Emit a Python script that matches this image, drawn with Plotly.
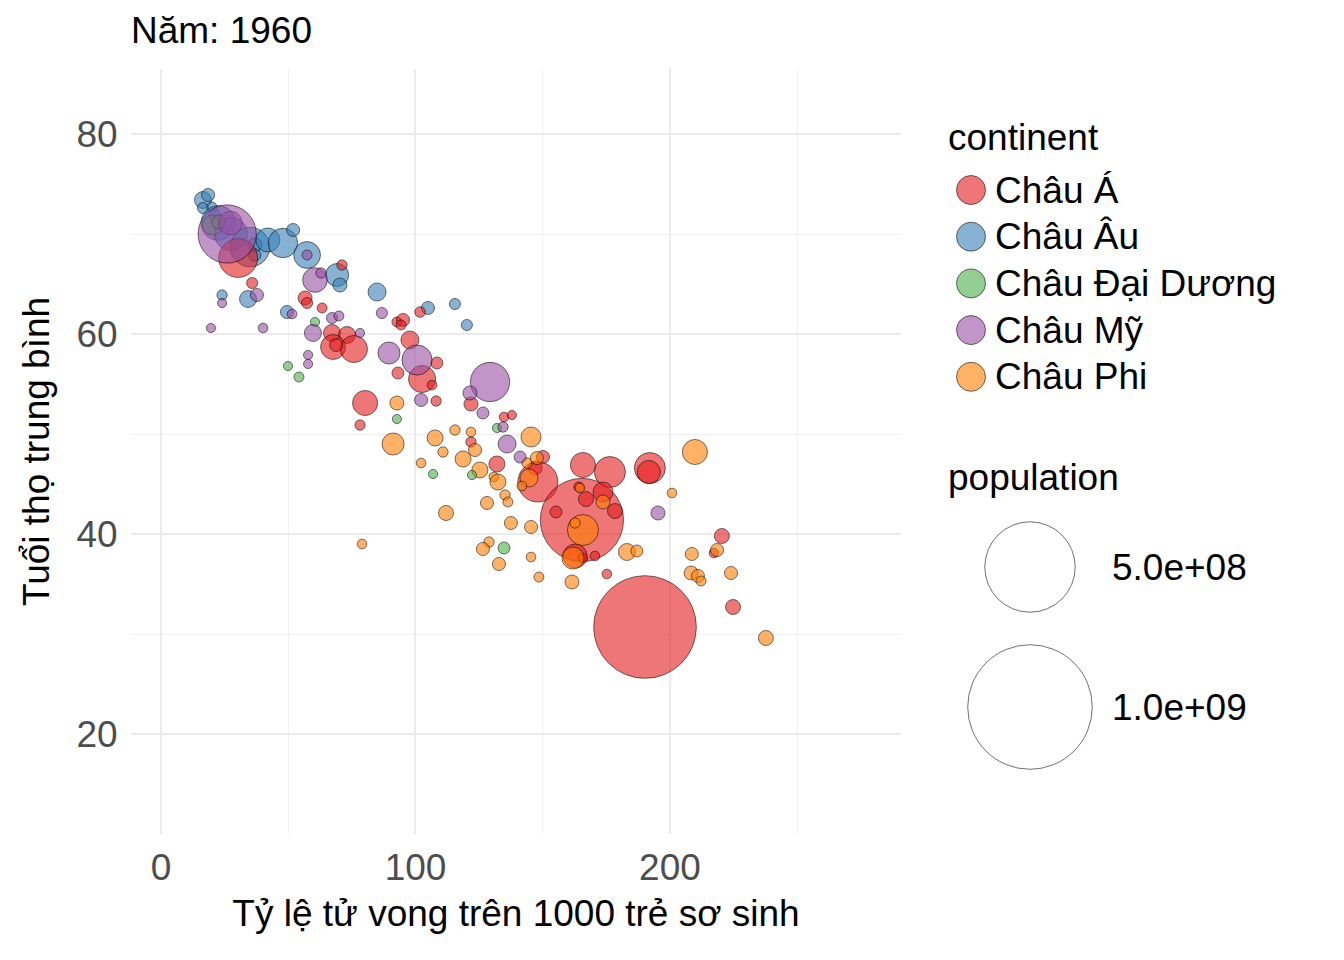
"""Bubble chart: infant mortality vs life expectancy, 1960 (gapminder style)."""

import math

import plotly.graph_objects as go

# ---- data (1960) ----
# infant mortality per 1000 births, life expectancy (years), population (millions)
asia_mort = [30.3, 35.8, 56.6, 57.4, 63.3, 71.1, 92.7, 95.1, 94.3, 101.8, 67.2, 73.1,
             67.6, 75.8, 68.8, 97.8, 93.1, 108.4, 102.6, 106.5, 108.1, 80.2, 78.2, 121.8,
             134.8, 137.9, 121.8, 132.0, 150.1, 147.0, 148.1, 165.8, 176.4, 192.1, 191.7,
             165.4, 164.2, 173.7, 167.0, 178.4, 155.2, 162.7, 165.8, 170.5, 175.2, 220.4,
             217.3, 224.8, 190.2]
asia_life = [67.6, 65.1, 63.6, 63.1, 62.6, 66.9, 61.2, 61.4, 60.9, 62.2, 60.1, 59.9,
             58.7, 58.5, 58.9, 59.4, 56.1, 57.1, 55.5, 54.9, 53.3, 53.1, 50.9, 53.0,
             51.7, 51.9, 49.2, 47.0, 47.7, 46.6, 45.2, 46.9, 46.2, 46.6, 46.2,
             41.4, 44.7, 44.2, 43.5, 42.3, 42.2, 37.8, 37.6, 37.8, 36.0, 39.8,
             38.1, 32.7, 30.7]
asia_pop = [70, 0.7, 2.7, 0.7, 0.3, 0.4, 0.3, 1.9, 0.3, 0.5, 6, 6,
            21, 27, 1.9, 7.4, 1.2, 1.2, 27, 0.2, 0.4, 21.5, 0.4, 2.7,
            0.2, 0.1, 0.4, 4.8, 1.9, 2.7, 76, 21.5, 39, 39, 17,
            418, 0.3, 10.7, 3.6, 3.6, 1.2, 19, 0.2, 0.2, 0.2, 3.6,
            0.2, 3.6, 660]

europe_mort = [16.5, 18.5, 16.5, 20.0, 21.2, 22.5, 27.5, 35.0, 36.9, 36.9, 42.0, 47.9,
               51.9, 57.4, 69.2, 70.3, 84.9, 24.0, 34.2, 49.5, 104.9, 115.5, 120.2]
europe_life = [73.4, 73.9, 72.6, 72.7, 71.9, 71.1, 70.0, 68.7, 68.9, 67.9, 69.4, 69.1,
               70.4, 67.9, 65.9, 64.9, 64.2, 63.9, 63.5, 62.2, 62.6, 63.0, 60.9]
europe_pop = [6, 1.9, 0.7, 0.3, 1.2, 52, 46, 73, 2.7, 1.2, 19, 34,
              1.9, 26, 16.7, 2.7, 7.4, 0.4, 6, 1.9, 1.9, 0.7, 0.7]

oceania_mort = [20.2, 22.6, 60.5, 49.9, 54.2, 92.7, 132.0, 106.9, 122.2, 134.8]
oceania_life = [70.9, 71.2, 61.2, 56.8, 55.7, 51.5, 50.6, 46.0, 45.9, 38.6]
oceania_pop = [10.3, 2.4, 0.1, 0.1, 0.3, 0.1, 0.1, 0.1, 0.1, 1.2]

americas_mort = [27.3, 26.0, 37.7, 24.0, 51.5, 60.5, 62.9, 57.4, 86.8, 67.2, 69.9, 19.6,
                 40.1, 59.7, 78.2, 57.8, 57.8, 89.6, 100.6, 102.2, 129.3, 121.4, 126.5,
                 134.4, 136.0, 141.1, 195.3]
americas_life = [71.1, 70.0, 63.9, 63.1, 62.0, 65.4, 66.1, 67.9, 62.1, 61.6, 61.8, 60.6,
                 60.6, 60.1, 60.1, 57.9, 57.0, 58.1, 57.4, 53.4, 55.2, 54.1, 52.1,
                 50.7, 49.0, 47.7, 42.1]
americas_pop = [17.9, 186, 1.9, 0.1, 0.2, 20.6, 0.4, 0.3, 0.7, 0.7, 0.3, 0.1,
                0.2, 6, 0.1, 0.1, 0.1, 14.6, 36, 1.9, 72, 2.7, 1.2,
                0.4, 7.4, 1.2, 2.7]

africa_mort = [92.7, 91.2, 115.5, 121.8, 107.7, 123.4, 110.8, 102.2, 118.7, 125.3, 130.8,
               132.4, 145.4, 143.8, 147.7, 144.6, 141.8, 135.2, 136.3, 128.1, 112.0, 137.5,
               145.4, 79.0, 128.9, 126.5, 132.8, 145.4, 148.5, 161.5, 165.8, 162.7, 161.9,
               173.7, 164.6, 183.1, 187.0, 209.8, 200.8, 208.6, 218.5, 208.3, 211.0, 212.2,
               224.0, 237.7]
africa_life = [53.1, 49.0, 50.4, 50.2, 49.6, 48.4, 48.2, 47.1, 47.5, 46.4, 45.7,
               45.2, 49.7, 47.1, 47.6, 45.6, 44.8, 43.9, 43.2, 43.1, 42.1, 41.1,
               40.7, 39.0, 39.2, 38.5, 37.0, 37.7, 35.7, 35.2, 40.4, 41.1, 37.6,
               43.2, 44.6, 38.2, 38.3, 48.2, 44.1, 38.0, 38.4, 36.1, 35.8, 35.3,
               36.1, 29.6]
africa_pop = [2.7, 14.6, 0.4, 0.2, 4.8, 1.9, 0.4, 0.2, 4.8, 4.8, 0.2,
              4.8, 10.7, 0.4, 1.9, 7.4, 0.2, 0.4, 0.3, 1.9, 3.6, 1.9,
              1.9, 0.2, 0.4, 1.9, 1.9, 0.2, 0.3, 2.7, 39, 0.4, 14.6,
              2.7, 0.2, 6, 1.2, 21.5, 0.2, 1.9, 1.9, 2.7, 1.9, 0.3,
              1.9, 3.6]

# legend order and colours (Set1 palette)
continents = ["Châu Á", "Châu Âu", "Châu Đại Dương", "Châu Mỹ", "Châu Phi"]
colors = {
    "Châu Á": (228, 26, 28),
    "Châu Âu": (55, 126, 184),
    "Châu Đại Dương": (77, 175, 74),
    "Châu Mỹ": (152, 78, 163),
    "Châu Phi": (255, 127, 0),
}
series = {
    "Châu Á": (asia_mort, asia_life, asia_pop),
    "Châu Âu": (europe_mort, europe_life, europe_pop),
    "Châu Đại Dương": (oceania_mort, oceania_life, oceania_pop),
    "Châu Mỹ": (americas_mort, americas_life, americas_pop),
    "Châu Phi": (africa_mort, africa_life, africa_pop),
}
size_breaks = [500, 1000]          # millions
size_labels = ["5.0e+08", "1.0e+09"]

# ---- styling ----
# the page body adds an 8px margin, so the figure is laid out 8px up/left
OFF = 8
W, H = 1344 - OFF, 960 - OFF
PANEL = dict(l=131 - OFF, r=901 - OFF, t=69 - OFF, b=834 - OFF)
FONT = "Liberation Sans, Arial, sans-serif"
FS = 37
ALPHA = 0.6
POP_MAX = max(max(p) for _, _, p in series.values())


def diameter(pop):
    return 8 + 94.7 * math.sqrt(pop / POP_MAX)


def rgba(rgb, a):
    return f"rgba({rgb[0]},{rgb[1]},{rgb[2]},{a})"


def to_px(x):
    # x given in screenshot pixels
    return (x - OFF - PANEL["l"]) / (PANEL["r"] - PANEL["l"])


def to_py(y):
    return (PANEL["b"] - (y - OFF)) / (PANEL["b"] - PANEL["t"])


fig = go.Figure()

# draw order roughly follows the stacking seen in the picture
for name in ["Châu Âu", "Châu Á", "Châu Phi", "Châu Đại Dương", "Châu Mỹ"]:
    mort, life, pop = series[name]
    fig.add_trace(go.Scatter(
        x=mort,
        y=life,
        mode="markers",
        name=name,
        marker=dict(
            size=[diameter(p) for p in pop],
            sizemode="diameter",
            opacity=1,
            color=rgba(colors[name], ALPHA),
            line=dict(color="rgba(0,0,0,0.75)", width=0.7),
        ),
        showlegend=False,
        hovertemplate=name + "<br>%{x}, %{y}<extra></extra>",
    ))

# ---- manual legends (ggplot-style) ----
shapes = []
annotations = []


def circle(cx, cy, d, fill):
    r = d / 2
    shapes.append(dict(
        type="circle", xref="paper", yref="paper",
        xsizemode="pixel", ysizemode="pixel",
        xanchor=to_px(cx), yanchor=to_py(cy),
        x0=-r, x1=r, y0=-r, y1=r,
        fillcolor=fill, line=dict(color="rgba(0,0,0,0.8)", width=0.7),
    ))


def label(x, y, text, size=FS):
    annotations.append(dict(
        x=to_px(x), y=to_py(y), xref="paper", yref="paper",
        text=text, showarrow=False, xanchor="left", yanchor="middle",
        font=dict(family=FONT, size=size, color="black"),
    ))


label(946, 137, "continent")
for i, name in enumerate(continents):
    cy = 190 + i * 46.7
    circle(971, cy, 29, rgba(colors[name], ALPHA))
    label(993, cy, name)

label(946, 477, "population")
for cy, brk, txt in zip([567, 707], size_breaks, size_labels):
    circle(1030, cy, diameter(brk), "rgba(255,255,255,0)")
    label(1110, cy, txt)

fig.update_layout(
    width=W,
    height=H,
    margin=dict(l=PANEL["l"], r=W - PANEL["r"], t=PANEL["t"], b=H - PANEL["b"]),
    paper_bgcolor="white",
    plot_bgcolor="white",
    font=dict(family=FONT, size=FS, color="black"),
    title=dict(
        text="Năm: 1960",
        x=0, xref="paper", xanchor="left",
        y=1 - (30 - OFF) / H, yref="container", yanchor="middle",
        font=dict(family=FONT, size=FS, color="black"),
    ),
    shapes=shapes,
    annotations=annotations,
    showlegend=False,
)

fig.update_xaxes(
    range=[-11.8, 290.8],
    tickvals=[0, 100, 200],
    ticks="outside", ticklen=1, tickcolor="rgba(0,0,0,0)",
    tickfont=dict(family=FONT, size=FS, color="#4D4D4D"),
    showgrid=True, gridcolor="#EBEBEB", gridwidth=1.6,
    minor=dict(tickvals=[50, 150, 250], showgrid=True, gridcolor="#F0F0F0", gridwidth=1),
    zeroline=False, showline=False,
    title=dict(text="Tỷ lệ tử vong trên 1000 trẻ sơ sinh", standoff=12,
               font=dict(family=FONT, size=FS, color="black")),
)
fig.update_yaxes(
    range=[10, 86.5],
    tickvals=[20, 40, 60, 80],
    ticks="outside", ticklen=5, tickcolor="rgba(0,0,0,0)",
    tickfont=dict(family=FONT, size=FS, color="#4D4D4D"),
    showgrid=True, gridcolor="#EBEBEB", gridwidth=1.6,
    minor=dict(tickvals=[10, 30, 50, 70], showgrid=True, gridcolor="#F0F0F0", gridwidth=1),
    zeroline=False, showline=False,
    title=dict(text="Tuổi thọ trung bình", standoff=15,
               font=dict(family=FONT, size=FS, color="black")),
)

fig.write_html("out.html")
